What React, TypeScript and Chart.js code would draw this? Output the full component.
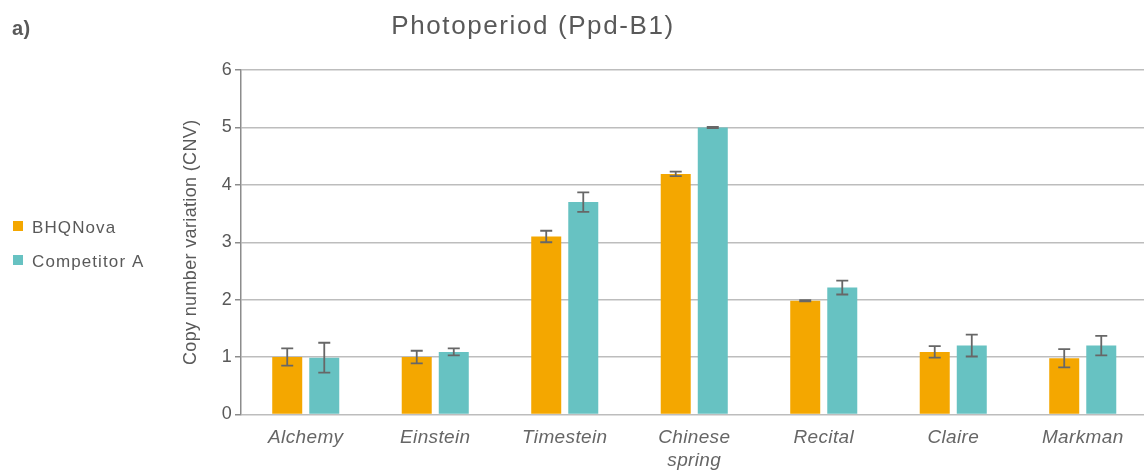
import { useEffect, useRef } from "react";
import { Chart, registerables } from "chart.js";

Chart.register(...registerables);

// Wheat varieties on the x axis
const categories: (string | string[])[] = [
  "Alchemy",
  "Einstein",
  "Timestein",
  ["Chinese", "spring"],
  "Recital",
  "Claire",
  "Markman",
];

const seriesNames = ["BHQNova", "Competitor A"];

// Copy number per variety and its error (±)
const bhqNova = [1.0, 1.0, 3.1, 4.19, 1.98, 1.09, 0.98];
const bhqNovaErr = [0.15, 0.11, 0.1, 0.04, 0.01, 0.1, 0.16];
const competitorA = [0.99, 1.09, 3.7, 5.0, 2.21, 1.2, 1.2];
const competitorAErr = [0.26, 0.06, 0.17, 0.01, 0.12, 0.19, 0.17];

const yMin = 0;
const yMax = 6;
const yStep = 1;

const seriesColors = ["#F4A700", "#67C2C2"];
const errors = [bhqNovaErr, competitorAErr];

const FONT = '"Liberation Sans", Arial, Helvetica, sans-serif';
const TEXT = "#595959";

const errorBarPlugin = {
  id: "errorBars",
  afterDatasetsDraw(chart: any) {
    const { ctx } = chart;
    const yScale = chart.scales.y;
    ctx.save();
    ctx.strokeStyle = "#676767";
    ctx.lineWidth = 1.8;
    chart.data.datasets.forEach((ds: any, i: number) => {
      const meta = chart.getDatasetMeta(i);
      meta.data.forEach((bar: any, j: number) => {
        const v = ds.data[j];
        const e = errors[i][j];
        const x = bar.x;
        const yTop = yScale.getPixelForValue(v + e);
        const yBot = yScale.getPixelForValue(v - e);
        const cap = 6;
        ctx.beginPath();
        ctx.moveTo(x, yTop);
        ctx.lineTo(x, yBot);
        ctx.moveTo(x - cap, yTop);
        ctx.lineTo(x + cap, yTop);
        ctx.moveTo(x - cap, yBot);
        ctx.lineTo(x + cap, yBot);
        ctx.stroke();
      });
    });
    ctx.restore();
  },
};

const spacingPlugin = {
  id: "spacing",
  beforeDraw(chart: any) {
    chart.ctx.letterSpacing = "0.35px";
  },
};

const decorPlugin = {
  id: "decor",
  afterDraw(chart: any) {
    const { ctx } = chart;
    ctx.save();
    ctx.fillStyle = TEXT;
    ctx.textBaseline = "alphabetic";

    // panel label
    ctx.letterSpacing = "0.5px";
    ctx.font = `bold 20px ${FONT}`;
    ctx.textAlign = "left";
    ctx.fillText("a)", 12, 35);

    // chart title
    ctx.letterSpacing = "1.6px";
    ctx.font = `26px ${FONT}`;
    ctx.textAlign = "center";
    ctx.fillText("Photoperiod (Ppd-B1)", 533, 34);

    // legend
    ctx.letterSpacing = "1.1px";
    ctx.font = `17px ${FONT}`;
    ctx.textAlign = "left";
    const rows = [221, 255];
    seriesNames.forEach((name, i) => {
      ctx.fillStyle = seriesColors[i];
      ctx.fillRect(13, rows[i], 10, 10);
      ctx.fillStyle = TEXT;
      ctx.fillText(name, 32, rows[i] + 11.5);
    });
    ctx.restore();
  },
};

export default function App() {
  const canvasRef = useRef<HTMLCanvasElement | null>(null);

  useEffect(() => {
    if (!canvasRef.current) return;
    const chart = new Chart(canvasRef.current, {
      type: "bar",
      data: {
        labels: categories,
        datasets: [
          {
            label: seriesNames[0],
            data: bhqNova,
            backgroundColor: seriesColors[0],
            categoryPercentage: 0.572,
            barPercentage: 0.81,
          },
          {
            label: seriesNames[1],
            data: competitorA,
            backgroundColor: seriesColors[1],
            categoryPercentage: 0.572,
            barPercentage: 0.81,
          },
        ],
      },
      options: {
        responsive: false,
        animation: false,
        devicePixelRatio: 1,
        layout: { padding: { left: 0, top: 70, right: 2.5, bottom: 0 } },
        plugins: {
          legend: { display: false },
          title: { display: false },
          tooltip: { enabled: false },
        },
        scales: {
          x: {
            grid: { display: false, drawTicks: false },
            border: { display: false },
            ticks: {
              color: "#666666",
              padding: 12,
              maxRotation: 0,
              autoSkip: false,
              font: { family: FONT, size: 19, style: "italic", lineHeight: 1.2 },
            },
            afterFit(scale: any) {
              scale.height = 56.5;
            },
          },
          y: {
            min: yMin,
            max: yMax,
            ticks: {
              stepSize: yStep,
              color: TEXT,
              padding: 3,
              font: { family: FONT, size: 18 },
            },
            grid: {
              color: "#BDBDBD",
              lineWidth: 1.5,
              tickLength: 6,
              tickColor: "#8C8C8C",
            },
            border: { display: true, color: "#8C8C8C", width: 1.5 },
            title: {
              display: true,
              text: "Copy number variation (CNV)",
              color: TEXT,
              padding: { top: 180, bottom: 0 },
              font: { family: FONT, size: 18, lineHeight: 1.2 },
            },
            afterFit(scale: any) {
              scale.width = 241;
            },
          },
        },
      },
      plugins: [spacingPlugin, errorBarPlugin, decorPlugin],
    });
    return () => chart.destroy();
  }, []);

  return (
    <div
      style={{
        position: "absolute",
        left: 0,
        top: 0,
        width: 1144,
        height: 471,
        overflow: "hidden",
        background: "#ffffff",
      }}
    >
      <canvas
        ref={canvasRef}
        width={1150}
        height={471}
        style={{ display: "block", width: 1150, height: 471 }}
      />
    </div>
  );
}
